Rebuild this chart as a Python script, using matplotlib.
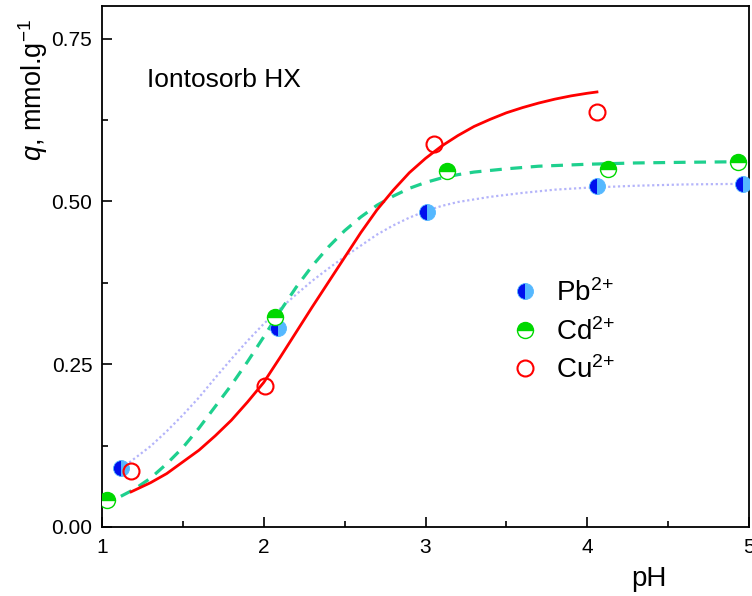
import matplotlib
matplotlib.use("Agg")
import matplotlib.pyplot as plt
from matplotlib.lines import Line2D

plt.rcParams['font.family'] = ['Liberation Sans', 'DejaVu Sans']
plt.rcParams['mathtext.fontset'] = 'custom'
plt.rcParams['mathtext.rm'] = 'Liberation Sans'
plt.rcParams['mathtext.it'] = 'Liberation Sans:italic'
plt.rcParams['mathtext.bf'] = 'Liberation Sans:bold'

# ---- data ----
pb_ph = [1.12, 2.09, 3.01, 4.06, 4.96]
pb_q = [0.091, 0.306, 0.484, 0.523, 0.527]
cd_ph = [1.03, 2.07, 3.13, 4.13, 4.93]
cd_q = [0.041, 0.323, 0.547, 0.550, 0.561]
cu_ph = [1.18, 2.01, 3.05, 4.06]
cu_q = [0.086, 0.217, 0.588, 0.637]

# fitted curves
cu_fit_x = [1.18, 1.3, 1.4, 1.5, 1.6, 1.7, 1.8, 1.9, 2.0, 2.1, 2.2, 2.3, 2.4, 2.5,
            2.6, 2.7, 2.8, 2.9, 3.0, 3.1, 3.2, 3.3, 3.4, 3.5, 3.6, 3.7, 3.8, 3.9, 4.0, 4.06]
cu_fit_y = [0.054, 0.068, 0.082, 0.100, 0.118, 0.140, 0.164, 0.192, 0.222, 0.260, 0.299,
            0.338, 0.376, 0.414, 0.452, 0.487, 0.517, 0.544, 0.566, 0.585, 0.601, 0.615,
            0.626, 0.636, 0.644, 0.651, 0.657, 0.662, 0.666, 0.668]
cd_fit_x = [1.0, 1.1, 1.2, 1.3, 1.4, 1.5, 1.6, 1.7, 1.8, 1.9, 2.0, 2.1, 2.2, 2.3, 2.4,
            2.5, 2.6, 2.7, 2.8, 2.9, 3.0, 3.1, 3.2, 3.3, 3.5, 3.7, 4.0, 4.3, 4.6, 5.0]
cd_fit_y = [0.035, 0.045, 0.058, 0.075, 0.097, 0.122, 0.152, 0.185, 0.218, 0.254, 0.292,
            0.331, 0.368, 0.401, 0.430, 0.455, 0.476, 0.494, 0.508, 0.520, 0.529, 0.536,
            0.541, 0.545, 0.550, 0.554, 0.557, 0.559, 0.560, 0.561]
pb_fit_x = [1.12, 1.2, 1.3, 1.4, 1.5, 1.6, 1.7, 1.8, 1.9, 2.0, 2.1, 2.2, 2.3, 2.4, 2.5,
            2.6, 2.7, 2.8, 2.9, 3.0, 3.1, 3.2, 3.4, 3.6, 3.8, 4.0, 4.3, 4.6, 5.0]
pb_fit_y = [0.090, 0.105, 0.124, 0.147, 0.172, 0.199, 0.229, 0.258, 0.286, 0.312, 0.335,
            0.357, 0.378, 0.397, 0.415, 0.432, 0.449, 0.463, 0.475, 0.485, 0.493, 0.499,
            0.507, 0.513, 0.518, 0.521, 0.524, 0.526, 0.527]

labels = ['Pb$^{2{+}}$', 'Cd$^{2{+}}$', 'Cu$^{2{+}}$']

fig = plt.figure(figsize=(7.52, 5.96), dpi=100)
ax = fig.add_axes([102/752, 1-527/596, 647/752, 521/596])

ax.plot(pb_fit_x, pb_fit_y, color='#b4b4fa', lw=1.6, ls=(0, (1, 1.2)), zorder=2)
ax.plot(cd_fit_x, cd_fit_y, color='#1ed08e', lw=2.3, ls=(0, (3.7, 2.7)), zorder=2)
ax.plot(cu_fit_x, cu_fit_y, color='#ff0000', lw=2.0, zorder=2)

ms = 11.5
pb_style = dict(marker='o', ms=ms, fillstyle='left', mfc='#0010ee', mfcalt='#55b8ff',
                mec='#55b8ff', mew=0.6, ls='none')
cd_style = dict(marker='o', ms=ms, fillstyle='top', mfc='#00d800', mfcalt='white',
                mec='#00d800', mew=1.0, ls='none')
cu_style = dict(marker='o', ms=ms, mfc='none', mec='#ff0000', mew=1.5, ls='none')

ax.plot(pb_ph, pb_q, zorder=3, **pb_style)
ax.plot(cd_ph, cd_q, zorder=3, **cd_style)
ax.plot(cu_ph, cu_q, zorder=3, **cu_style)

handles = [Line2D([], [], **pb_style), Line2D([], [], **cd_style), Line2D([], [], **cu_style)]
ax.legend(handles, labels, loc='center left', bbox_to_anchor=(0.632, 0.375),
          frameon=False, fontsize=20, handlelength=1.0, handletextpad=0.62,
          borderpad=0, borderaxespad=0, labelspacing=0.38)

ax.set_xlim(1, 5)
ax.set_ylim(0, 0.8)
ax.set_xticks([1, 2, 3, 4, 5])
ax.set_xticklabels(['1', '2', '3', '4', '5'])
ax.set_xticks([1.5, 2.5, 3.5, 4.5], minor=True)
ax.set_yticks([0, 0.25, 0.5, 0.75])
ax.set_yticklabels(['0.00', '0.25', '0.50', '0.75'])
ax.set_yticks([0.125, 0.375, 0.625], minor=True)
ax.tick_params(which='both', direction='in', width=1.2, labelsize=15)
ax.tick_params(axis='x', which='major', length=7, pad=8)
ax.tick_params(axis='y', which='major', length=7, pad=7)
ax.tick_params(which='minor', length=4)
for s in ax.spines.values():
    s.set_linewidth(1.3)

ax.set_xlabel('pH', fontsize=20)
ax.xaxis.set_label_coords(0.845, -0.075)
fig.text(33/752, 1-90/596, '$q$, mmol.g$^{-1}$', rotation=90, fontsize=19.5,
         ha='center', va='center')

ax.text(0.0696, 0.845, 'Iontosorb HX', transform=ax.transAxes, fontsize=19,
        va='baseline', ha='left')

fig.savefig('out.png', dpi=100)
